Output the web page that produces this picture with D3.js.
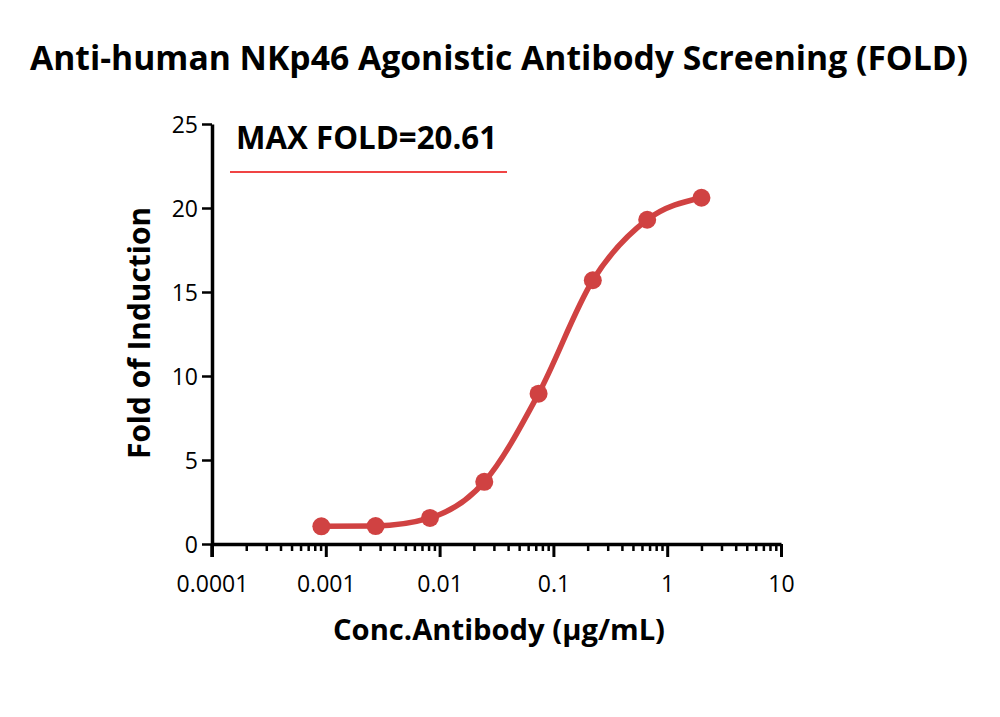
<!DOCTYPE html>
<html><head><meta charset="utf-8">
<script src="https://cdn.jsdelivr.net/npm/d3@7"></script>
<style>body{margin:0;background:#fff}svg{display:block}</style>
</head><body>
<svg id="c" width="1000" height="717"></svg>
<script>
const concentrations = [0.000914, 0.00274, 0.00823, 0.0247, 0.0741, 0.222, 0.667, 2.0];
const foldValues = [1.05, 1.07, 1.55, 3.7, 8.95, 15.7, 19.3, 20.61];
const xTickValues = [0.0001, 0.001, 0.01, 0.1, 1, 10];
const xTickLabels = ["0.0001", "0.001", "0.01", "0.1", "1", "10"];
const yTickValues = [0, 5, 10, 15, 20, 25];
const titleText = "Anti-human NKp46 Agonistic Antibody Screening (FOLD)";
const annotationText = "MAX FOLD=20.61";
const xLabel = "Conc.Antibody (μg/mL)";
const yLabel = "Fold of Induction";

const svg = d3.select("#c");
const font = "'Open Sans', 'DejaVu Sans', sans-serif";
const red = "#d04242";

const x = d3.scaleLog().domain([0.0001, 10]).range([212, 781]);
const y = d3.scaleLinear().domain([0, 25]).range([544, 124]);

function fit(sel, w) {
  let fs = parseFloat(sel.attr("font-size"));
  for (let i = 0; i < 4; i++) {
    const len = sel.node().getComputedTextLength();
    fs = fs * w / len;
    sel.attr("font-size", fs);
  }
}

// title
const t = svg.append("text").attr("x", 499).attr("y", 70).attr("text-anchor", "middle")
  .attr("font-family", font).attr("font-weight", "bold").attr("font-size", 30).text(titleText);
fit(t, 938);

// x axis
const minorTicks = [];
for (let e = -4; e < 1; e++) for (let m = 2; m <= 9; m++) minorTicks.push(m * Math.pow(10, e));
const gx = svg.append("g").attr("transform", "translate(0,544)");
gx.append("g").call(d3.axisBottom(x).tickValues(minorTicks).tickSize(7).tickFormat(""))
  .call(g => g.select(".domain").remove())
  .call(g => g.selectAll("line").attr("stroke", "#000").attr("stroke-width", 2.5));
gx.append("g").call(d3.axisBottom(x).tickValues(xTickValues).tickSize(13).tickSizeOuter(0)
    .tickFormat((d, i) => xTickLabels[i]))
  .call(g => g.select(".domain").attr("stroke", "#000").attr("stroke-width", 3.5))
  .call(g => g.selectAll("line").attr("stroke", "#000").attr("stroke-width", 3))
  .call(g => g.selectAll("text").attr("font-family", font).attr("font-size", 23)
    .attr("fill", "#000").attr("dy", "0").attr("y", 48));

// y axis
const gy = svg.append("g").attr("transform", "translate(212,0)");
gy.call(d3.axisLeft(y).tickValues(yTickValues).tickSize(10).tickSizeOuter(0))
  .call(g => g.select(".domain").attr("stroke", "#000").attr("stroke-width", 3.5))
  .call(g => g.selectAll("line").attr("stroke", "#000").attr("stroke-width", 2.5))
  .call(g => g.selectAll("text").attr("font-family", font).attr("font-size", 23)
    .attr("fill", "#000").attr("x", -14).attr("dy", "0.36em"));
svg.append("line").attr("x1", 212).attr("x2", 212).attr("y1", 544).attr("y2", 557)
  .attr("stroke", "#000").attr("stroke-width", 3.5);

// annotation
const a = svg.append("text").attr("x", 236).attr("y", 149).attr("font-family", font)
  .attr("font-weight", "bold").attr("font-size", 28).text(annotationText);
fit(a, 261);
svg.append("line").attr("x1", 230).attr("x2", 507).attr("y1", 172).attr("y2", 172)
  .attr("stroke", "#f04444").attr("stroke-width", 2);

// axis labels
const yl = svg.append("text").attr("transform", "translate(150,333) rotate(-90)")
  .attr("text-anchor", "middle").attr("font-family", font).attr("font-weight", "bold")
  .attr("font-size", 26).text(yLabel);
fit(yl, 252);
const xl = svg.append("text").attr("x", 499).attr("y", 640).attr("text-anchor", "middle")
  .attr("font-family", font).attr("font-weight", "bold").attr("font-size", 26).text(xLabel);
fit(xl, 332);

// data
const data = concentrations.map((c, i) => ({c, v: foldValues[i]}));
const line = d3.line().x(d => x(d.c)).y(d => y(d.v)).curve(d3.curveMonotoneX);
svg.append("path").datum(data).attr("d", line).attr("fill", "none")
  .attr("stroke", red).attr("stroke-width", 5.5);
svg.selectAll("circle.pt").data(data).join("circle").attr("class", "pt")
  .attr("cx", d => x(d.c)).attr("cy", d => y(d.v)).attr("r", 9).attr("fill", red);
</script>
</body></html>
